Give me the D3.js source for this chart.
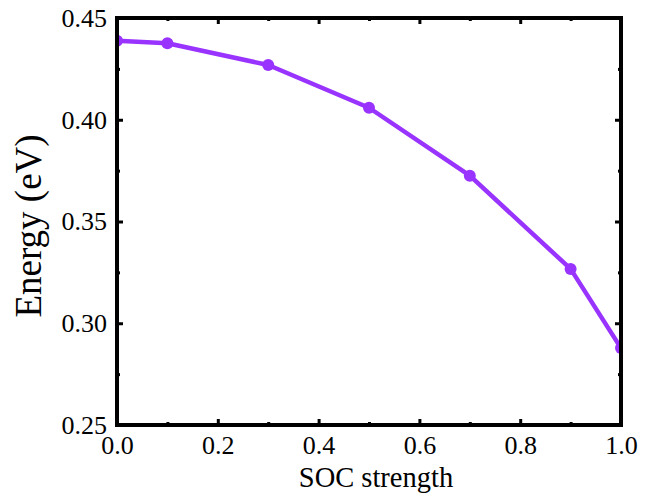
<!DOCTYPE html>
<html>
<head>
<meta charset="utf-8">
<script src="https://cdn.jsdelivr.net/npm/d3@7"></script>
<style>
  html, body { margin: 0; padding: 0; background: #fff; }
  svg { display: block; }
  text { font-family: "Liberation Serif", "Times New Roman", serif; fill: #000; }
</style>
</head>
<body>
<svg id="chart" width="655" height="497"></svg>
<script>
// SOC strength sweep and the corresponding energies
const socStrength = [0.0, 0.1, 0.3, 0.5, 0.7, 0.9, 1.0];
const energy = [0.4388, 0.4376, 0.4269, 0.4059, 0.3725, 0.3267, 0.2878];

const xTicks = [0.0, 0.2, 0.4, 0.6, 0.8, 1.0];
const xMinor = [0.1, 0.3, 0.5, 0.7, 0.9];
const yTicks = [0.25, 0.30, 0.35, 0.40, 0.45];
const yMinor = [0.275, 0.325, 0.375, 0.425];

const svg = d3.select("#chart");
const plotL = 117, plotR = 621, plotT = 18, plotB = 425;
const lineColor = "#9933ff";
const serif = '"Liberation Serif", "Times New Roman", serif';

const x = d3.scaleLinear().domain([0, 1]).range([plotL, plotR]);
const y = d3.scaleLinear().domain([0.25, 0.45]).range([plotB, plotT]);

svg.append("defs").append("clipPath").attr("id", "plotClip")
  .append("rect")
  .attr("x", plotL).attr("y", plotT)
  .attr("width", plotR - plotL).attr("height", plotB - plotT);

// data line and markers
const plot = svg.append("g").attr("clip-path", "url(#plotClip)");
const line = d3.line().x((d, i) => x(socStrength[i])).y(d => y(d));
plot.append("path")
  .datum(energy)
  .attr("d", line)
  .attr("fill", "none")
  .attr("stroke", lineColor)
  .attr("stroke-width", 4.5)
  .attr("stroke-linejoin", "round");
plot.selectAll("circle")
  .data(energy)
  .join("circle")
  .attr("cx", (d, i) => x(socStrength[i]))
  .attr("cy", d => y(d))
  .attr("r", 6)
  .attr("fill", lineColor);

// axes: inward ticks, mirrored on top and right
const fmtX = d3.format(".1f");
const fmtY = d3.format(".2f");

function styleAxis(g) {
  g.attr("font-family", serif).attr("font-size", 26);
  g.select(".domain").remove();
  g.selectAll(".tick line").attr("stroke", "#000").attr("stroke-width", 3);
  g.selectAll(".tick text").attr("fill", "#000").style("font-family", serif);
}

svg.append("g").attr("transform", `translate(0,${plotB})`)
  .call(d3.axisBottom(x).tickValues(xTicks).tickFormat(fmtX).tickSizeInner(-6).tickPadding(11))
  .call(styleAxis);
svg.append("g").attr("transform", `translate(0,${plotB})`)
  .call(d3.axisBottom(x).tickValues(xMinor).tickFormat("").tickSizeInner(-3))
  .call(styleAxis);
svg.append("g").attr("transform", `translate(0,${plotT})`)
  .call(d3.axisTop(x).tickValues(xTicks).tickFormat("").tickSizeInner(-6))
  .call(styleAxis);
svg.append("g").attr("transform", `translate(0,${plotT})`)
  .call(d3.axisTop(x).tickValues(xMinor).tickFormat("").tickSizeInner(-3))
  .call(styleAxis);

svg.append("g").attr("transform", `translate(${plotL},0)`)
  .call(d3.axisLeft(y).tickValues(yTicks).tickFormat(fmtY).tickSizeInner(-6).tickPadding(10))
  .call(styleAxis);
svg.append("g").attr("transform", `translate(${plotL},0)`)
  .call(d3.axisLeft(y).tickValues(yMinor).tickFormat("").tickSizeInner(-3))
  .call(styleAxis);
svg.append("g").attr("transform", `translate(${plotR},0)`)
  .call(d3.axisRight(y).tickValues(yTicks).tickFormat("").tickSizeInner(-6))
  .call(styleAxis);
svg.append("g").attr("transform", `translate(${plotR},0)`)
  .call(d3.axisRight(y).tickValues(yMinor).tickFormat("").tickSizeInner(-3))
  .call(styleAxis);

// frame
svg.append("rect")
  .attr("x", plotL).attr("y", plotT)
  .attr("width", plotR - plotL).attr("height", plotB - plotT)
  .attr("fill", "none").attr("stroke", "#000").attr("stroke-width", 4);

// axis titles
svg.append("text")
  .attr("x", 376).attr("y", 487)
  .attr("text-anchor", "middle")
  .style("font-size", "28.5px")
  .text("SOC strength");
svg.append("text")
  .attr("transform", "translate(41,226) rotate(-90)")
  .attr("text-anchor", "middle")
  .style("font-size", "37px")
  .text("Energy (eV)");
</script>
</body>
</html>
